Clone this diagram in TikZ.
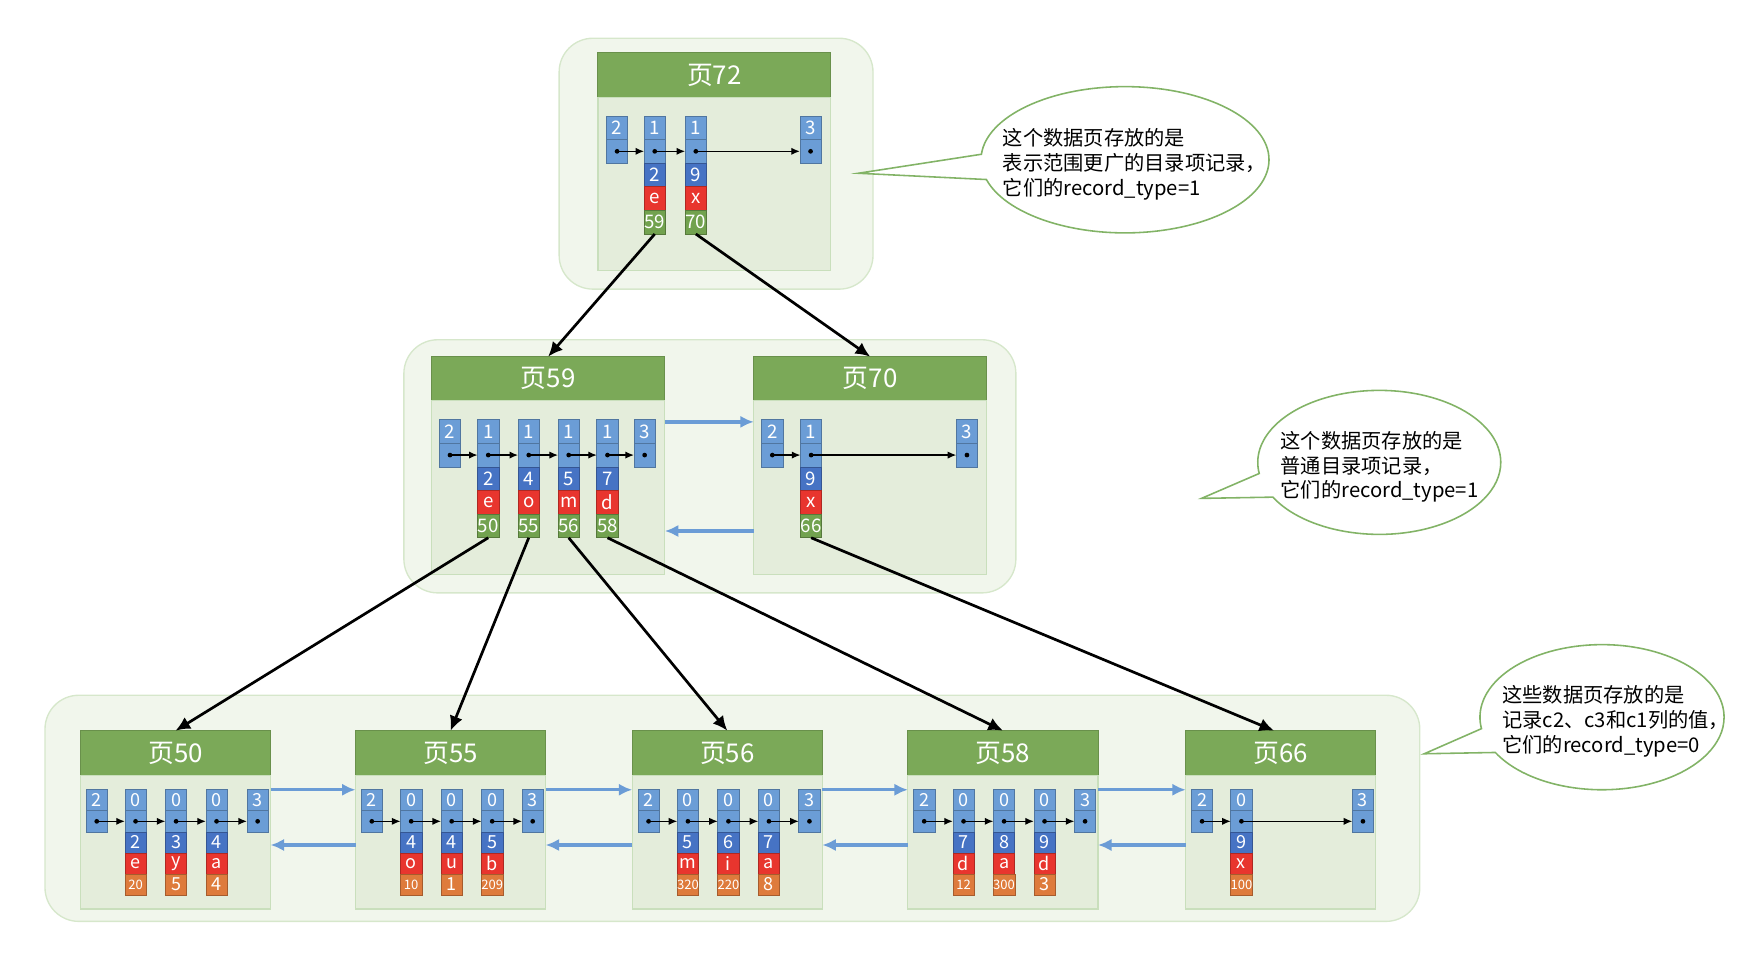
\documentclass[tikz,border=0pt]{standalone}
\usepackage{fontspec}
\setmainfont{Noto Sans CJK SC}
\usetikzlibrary{arrows.meta,shapes.callouts,calc}
\definecolor{outerfill}{HTML}{F1F6EC}
\definecolor{outerdraw}{HTML}{D6E7CB}
\definecolor{bodyfill}{HTML}{E4EDDB}
\definecolor{bodydraw}{HTML}{C9DFBC}
\definecolor{hdrfill}{HTML}{7BA958}
\definecolor{lblue}{HTML}{6B9DD6}
\definecolor{dblue}{HTML}{4673C4}
\definecolor{redc}{HTML}{E8352E}
\definecolor{gcell}{HTML}{72A24F}
\definecolor{ocell}{HTML}{DE7B3C}
\definecolor{barrowc}{HTML}{6B9CD6}
\definecolor{bubdraw}{HTML}{82B366}
\tikzset{
  cell/.style={draw=#1!75!black, fill=#1, line width=0.3pt, minimum width=9.5pt,
    inner sep=0pt, outer sep=0pt, text=white, anchor=north},
  outerst/.style={draw=outerdraw, fill=outerfill, line width=0.6pt, rounded corners=15pt,
    inner sep=0pt, outer sep=0pt, anchor=north west},
  hdrst/.style={draw=hdrfill!85!black, fill=hdrfill, line width=0.4pt, inner sep=0pt,
    outer sep=0pt, text=white, font=\fontsize{11.5}{12}\selectfont},
  bodyst/.style={draw=bodydraw, fill=bodyfill, line width=0.5pt, inner sep=0pt, outer sep=0pt},
  tree/.style={draw=black, line width=1.2pt, -{Latex[length=6.5pt,width=6pt]}},
  barrow/.style={draw=barrowc, line width=1.5pt, -{Latex[length=6pt,width=5.5pt]}},
  parrow/.style={draw=black, line width=0.55pt, -{Latex[length=3.8pt,width=3.2pt]}},
  bubble/.style={ellipse callout, draw=bubdraw, fill=white, line width=0.7pt,
    inner sep=0pt, callout pointer arc=20},
  btext/.style={anchor=west, align=left, inner sep=0pt, font=\fontsize{9}{11}\selectfont},
}
\def\cellh{10.5pt}
\def\cfont{\fontsize{8.3}{9}\selectfont}
\def\sfont{\fontsize{5.8}{6}\selectfont}
% page: id, x, y, width, header h, body h, label
\newcommand\pg[7]{%
  \node[hdrst, minimum width=#4*0.5pt, minimum height=#5*0.5pt, anchor=north west] (#1) at (#2,#3) {#7};
  \node[bodyst, minimum width=#4*0.5pt, minimum height=#6*0.5pt, anchor=north] (#1b) at (#1.south) {};
}
% record top: id, x, y, header text
\newcommand\rtop[4]{%
  \node[cell=lblue, minimum height=\cellh, anchor=north west, font=\cfont] (#1h) at (#2,#3) {#4};
  \node[cell=lblue, minimum height=\cellh] (#1p) at (#1h.south) {};
}
% record data: id, key, char, value, value colour, value font
\newcommand\rdat[6]{%
  \node[cell=dblue, minimum height=\cellh, font=\cfont] (#1k) at (#1p.south) {#2};
  \node[cell=redc, minimum height=\cellh, font=\cfont] (#1c) at (#1k.south) {#3};
  \node[cell=#5, minimum height=\cellh, font=#6] (#1v) at (#1c.south) {#4};
}
\newcommand\ptrdot[1]{\fill (#1p.center) circle (1.05pt);}
\begin{document}
\begin{tikzpicture}[x=0.5pt,y=-0.5pt]
\useasboundingbox (0,0) rectangle (1568,857);
% outer boxes
\node[outerst, minimum width=279*0.5pt, minimum height=223*0.5pt] (o1) at (497,34) {};
\node[outerst, minimum width=544*0.5pt, minimum height=225*0.5pt] (o2) at (359,302) {};
\node[outerst, minimum width=1222*0.5pt, minimum height=201*0.5pt] (o3) at (40,618) {};
% pages
\pg{p72}{531.5}{47}{207}{39.5}{154}{页72}
\pg{p59}{383.5}{317}{207.5}{39}{155}{页59}
\pg{p70}{670}{317}{207}{39}{155}{页70}
\pg{p50}{71.5}{649.5}{169}{39.5}{119}{页50}
\pg{p55}{316}{649.5}{169}{39.5}{119}{页55}
\pg{p56}{562}{649.5}{169}{39.5}{119}{页56}
\pg{p58}{807}{649.5}{169}{39.5}{119}{页58}
\pg{p66}{1054}{649.5}{169}{39.5}{119}{页66}
% page 72 records
\rtop{r72a}{539}{103}{2}
\rtop{r72b}{572.5}{103}{1}\rdat{r72b}{2}{e}{59}{gcell}{\cfont}
\rtop{r72c}{609}{103}{1}\rdat{r72c}{9}{x}{70}{gcell}{\cfont}
\rtop{r72d}{711}{103}{3}
% page 59 records
\rtop{r59a}{390.5}{373}{2}
\rtop{r59b}{424.5}{373}{1}\rdat{r59b}{2}{e}{50}{gcell}{\cfont}
\rtop{r59c}{460.5}{373}{1}\rdat{r59c}{4}{o}{55}{gcell}{\cfont}
\rtop{r59d}{496}{373}{1}\rdat{r59d}{5}{m}{56}{gcell}{\cfont}
\rtop{r59e}{530.5}{373}{1}\rdat{r59e}{7}{d}{58}{gcell}{\cfont}
\rtop{r59f}{563.5}{373}{3}
% page 70 records
\rtop{r70a}{677}{373}{2}
\rtop{r70b}{711.5}{373}{1}\rdat{r70b}{9}{x}{66}{gcell}{\cfont}
\rtop{r70c}{850}{373}{3}
% leaf records
\def\cellh{9.35pt}
\def\cfont{\fontsize{8}{9}\selectfont}
\rtop{r50a}{76.5}{702}{2}
\rtop{r50b}{111}{702}{0}\rdat{r50b}{2}{e}{20}{ocell}{\sfont}
\rtop{r50c}{147}{702}{0}\rdat{r50c}{3}{y}{5}{ocell}{\cfont}
\rtop{r50d}{183}{702}{0}\rdat{r50d}{4}{a}{4}{ocell}{\cfont}
\rtop{r50e}{219.5}{702}{3}
\rtop{r55a}{321}{702}{2}
\rtop{r55b}{356}{702}{0}\rdat{r55b}{4}{o}{10}{ocell}{\sfont}
\rtop{r55c}{392}{702}{0}\rdat{r55c}{4}{u}{1}{ocell}{\cfont}
\rtop{r55d}{428}{702}{0}\rdat{r55d}{5}{b}{209}{ocell}{\sfont}
\rtop{r55e}{464}{702}{3}
\rtop{r56a}{567}{702}{2}
\rtop{r56b}{602}{702}{0}\rdat{r56b}{5}{m}{320}{ocell}{\sfont}
\rtop{r56c}{638}{702}{0}\rdat{r56c}{6}{i}{220}{ocell}{\sfont}
\rtop{r56d}{674}{702}{0}\rdat{r56d}{7}{a}{8}{ocell}{\cfont}
\rtop{r56e}{710}{702}{3}
\rtop{r58a}{812}{702}{2}
\rtop{r58b}{847}{702}{0}\rdat{r58b}{7}{d}{12}{ocell}{\sfont}
\rtop{r58c}{883}{702}{0}\rdat{r58c}{8}{a}{300}{ocell}{\sfont}
\rtop{r58d}{919}{702}{0}\rdat{r58d}{9}{d}{3}{ocell}{\cfont}
\rtop{r58e}{955}{702}{3}
\rtop{r66a}{1059}{702}{2}
\rtop{r66b}{1094}{702}{0}\rdat{r66b}{9}{x}{100}{ocell}{\sfont}
\rtop{r66c}{1202}{702}{3}
% pointer dots and arrows
\foreach \p in {r72a,r72b,r72c,r72d,r59a,r59b,r59c,r59d,r59e,r59f,r70a,r70b,r70c,
  r50a,r50b,r50c,r50d,r50e,r55a,r55b,r55c,r55d,r55e,r56a,r56b,r56c,r56d,r56e,
  r58a,r58b,r58c,r58d,r58e,r66a,r66b,r66c}{\ptrdot{\p}}
\foreach \a/\b in {r72a/r72b,r72b/r72c,r72c/r72d,
  r59a/r59b,r59b/r59c,r59c/r59d,r59d/r59e,r59e/r59f,r70a/r70b,r70b/r70c,
  r50a/r50b,r50b/r50c,r50c/r50d,r50d/r50e,r55a/r55b,r55b/r55c,r55c/r55d,r55d/r55e,
  r56a/r56b,r56b/r56c,r56c/r56d,r56d/r56e,r58a/r58b,r58b/r58c,r58c/r58d,r58d/r58e,
  r66a/r66b,r66b/r66c}{\draw[parrow] (\a p.center) -- (\b p.west);}
% tree arrows
\draw[tree] (r72bv.south) -- (p59.north);
\draw[tree] (r72cv.south) -- (p70.north);
\draw[tree] (r59bv.south) -- (p50.north);
\draw[tree] (r59cv.south) -- (p55.north);
\draw[tree] (r59dv.south) -- (p56.north);
\draw[tree] (r59ev.south) -- (p58.north);
\draw[tree] (r70bv.south) -- ([xshift=-3pt]p66.north);
% sibling arrows
\draw[barrow] ($(p59b.east |- r59ah.north)+(0,2)$) -- ($(p70b.west |- r59ah.north)+(0,2)$);
\draw[barrow] ($(p70b.west |- r59bv.south)+(0,-6)$) -- ($(p59b.east |- r59bv.south)+(0,-6)$);
\foreach \a/\b in {p50/p55,p55/p56,p56/p58,p58/p66}{
  \draw[barrow] (\a b.east |- r50ah.north) -- (\b b.west |- r50ah.north);
  \draw[barrow] ($(\b b.west |- r50bk.south)+(0,-7)$) -- ($(\a b.east |- r50bk.south)+(0,-7)$);
}
% callouts
\coordinate (t1) at (763,154);
\coordinate (t2) at (1068,443);
\coordinate (t3) at (1266,670);
\node[bubble, minimum width=256*0.5pt, minimum height=130*0.5pt, callout absolute pointer=(t1)] (b1) at (1000,142) {};
\node[bubble, minimum width=216*0.5pt, minimum height=128*0.5pt, callout absolute pointer=(t2)] (b2) at (1226,411) {};
\node[bubble, minimum width=217*0.5pt, minimum height=129*0.5pt, callout absolute pointer=(t3)] (b3) at (1424,637.5) {};
\node[btext] (bt1) at (891,146) {这个数据页存放的是\\表示范围更广的目录项记录，\\它们的record\_type=1};
\node[btext] (bt2) at (1138,415) {这个数据页存放的是\\普通目录项记录，\\它们的record\_type=1};
\node[btext] (bt3) at (1335,641) {这些数据页存放的是\\记录c2、c3和c1列的值，\\它们的record\_type=0};
\end{tikzpicture}
\end{document}
